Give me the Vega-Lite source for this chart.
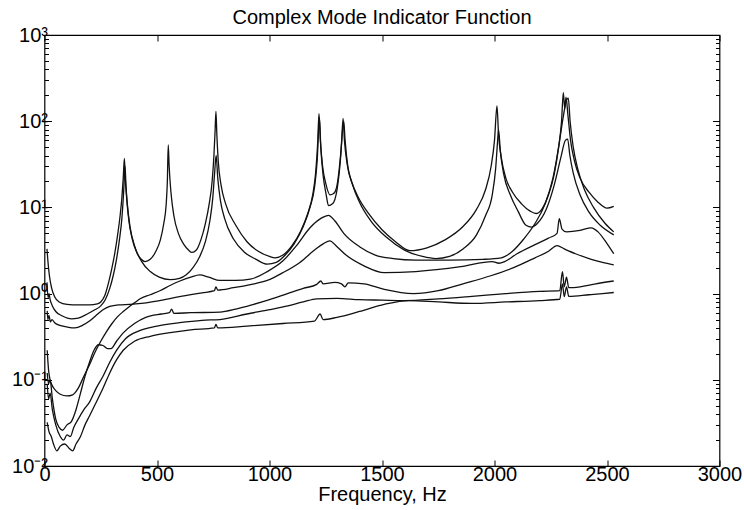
{
"$schema": "https://vega.github.io/schema/vega-lite/v6.json",
"width": 675, "height": 431,
"autosize": {"type": "none"},
"padding": {"left": 44.5, "top": 35, "right": 24.5, "bottom": 44},
"background": "white",
"config": {"view": {"stroke": "black", "strokeWidth": 1.2}, "axis": {"domain": false, "grid": false, "labelFont": "Liberation Sans", "titleFont": "Liberation Sans", "labelColor": "black", "titleColor": "black", "tickColor": "black", "labelFontSize": 20, "titleFontSize": 20, "titleFontWeight": "normal", "labelFlush": false, "labelOverlap": false}},
"title": {"text": "Complex Mode Indicator Function", "fontSize": 20, "fontWeight": "normal", "font": "Liberation Sans", "offset": -3, "anchor": "middle", "color": "black"},
"data": {"values": [
{"c":"A","f":11,"v":3.3},{"c":"A","f":15,"v":2.4},{"c":"A","f":22,"v":1.6},{"c":"A","f":32,"v":1.15},{"c":"A","f":45,"v":0.92},{"c":"A","f":65,"v":0.8},{"c":"A","f":100,"v":0.75},{"c":"A","f":150,"v":0.74},{"c":"A","f":200,"v":0.74},{"c":"A","f":235,"v":0.76},{"c":"A","f":250,"v":0.8},{"c":"A","f":268,"v":0.95},{"c":"A","f":285,"v":1.35},{"c":"A","f":300,"v":2.0},{"c":"A","f":313,"v":3.0},{"c":"A","f":325,"v":4.8},{"c":"A","f":336,"v":8},{"c":"A","f":344,"v":13},{"c":"A","f":350,"v":22},{"c":"A","f":355,"v":37},{"c":"A","f":359,"v":22},{"c":"A","f":365,"v":13},{"c":"A","f":375,"v":7},{"c":"A","f":390,"v":4.3},{"c":"A","f":410,"v":3.0},{"c":"A","f":430,"v":2.5},{"c":"A","f":447,"v":2.35},{"c":"A","f":470,"v":2.5},{"c":"A","f":495,"v":3.1},{"c":"A","f":515,"v":4.2},{"c":"A","f":530,"v":6.5},{"c":"A","f":541,"v":11},{"c":"A","f":546,"v":20},{"c":"A","f":550,"v":53},{"c":"A","f":554,"v":30},{"c":"A","f":562,"v":15},{"c":"A","f":575,"v":8},{"c":"A","f":595,"v":5},{"c":"A","f":620,"v":3.7},{"c":"A","f":640,"v":3.2},{"c":"A","f":655,"v":3.0},{"c":"A","f":675,"v":3.2},{"c":"A","f":695,"v":4.2},{"c":"A","f":715,"v":6.5},{"c":"A","f":732,"v":11},{"c":"A","f":745,"v":20},{"c":"A","f":753,"v":40},{"c":"A","f":758,"v":75},{"c":"A","f":762,"v":130},{"c":"A","f":766,"v":70},{"c":"A","f":772,"v":35},{"c":"A","f":785,"v":18},{"c":"A","f":805,"v":11},{"c":"A","f":850,"v":6.2},{"c":"A","f":900,"v":4.0},{"c":"A","f":950,"v":3.1},{"c":"A","f":1000,"v":2.7},{"c":"A","f":1025,"v":2.6},{"c":"A","f":1060,"v":2.8},{"c":"A","f":1100,"v":3.6},{"c":"A","f":1140,"v":5.4},{"c":"A","f":1170,"v":8.5},{"c":"A","f":1192,"v":14},{"c":"A","f":1205,"v":25},{"c":"A","f":1214,"v":55},{"c":"A","f":1220,"v":122},{"c":"A","f":1226,"v":60},{"c":"A","f":1236,"v":30},{"c":"A","f":1250,"v":19},{"c":"A","f":1269,"v":14},{"c":"A","f":1285,"v":14.5},{"c":"A","f":1298,"v":17},{"c":"A","f":1310,"v":28},{"c":"A","f":1320,"v":55},{"c":"A","f":1327,"v":108},{"c":"A","f":1333,"v":60},{"c":"A","f":1345,"v":32},{"c":"A","f":1365,"v":20},{"c":"A","f":1395,"v":13},{"c":"A","f":1440,"v":8.5},{"c":"A","f":1500,"v":5.5},{"c":"A","f":1560,"v":4.0},{"c":"A","f":1624,"v":3.15},{"c":"A","f":1700,"v":3.4},{"c":"A","f":1780,"v":4.2},{"c":"A","f":1860,"v":6},{"c":"A","f":1920,"v":9.5},{"c":"A","f":1960,"v":16},{"c":"A","f":1985,"v":30},{"c":"A","f":2000,"v":60},{"c":"A","f":2011,"v":150},{"c":"A","f":2018,"v":70},{"c":"A","f":2030,"v":38},{"c":"A","f":2050,"v":22},{"c":"A","f":2080,"v":15},{"c":"A","f":2120,"v":11},{"c":"A","f":2160,"v":9},{"c":"A","f":2185,"v":8.5},{"c":"A","f":2210,"v":9.5},{"c":"A","f":2240,"v":14},{"c":"A","f":2265,"v":24},{"c":"A","f":2285,"v":50},{"c":"A","f":2298,"v":100},{"c":"A","f":2306,"v":215},{"c":"A","f":2312,"v":140},{"c":"A","f":2318,"v":190},{"c":"A","f":2326,"v":120},{"c":"A","f":2338,"v":60},{"c":"A","f":2355,"v":35},{"c":"A","f":2380,"v":22},{"c":"A","f":2420,"v":15},{"c":"A","f":2460,"v":11.5},{"c":"A","f":2500,"v":9.8},{"c":"A","f":2530,"v":10.3},
{"c":"B","f":11,"v":1.35},{"c":"B","f":16,"v":0.9},{"c":"B","f":20,"v":1.0},{"c":"B","f":25,"v":0.85},{"c":"B","f":35,"v":0.72},{"c":"B","f":50,"v":0.62},{"c":"B","f":80,"v":0.55},{"c":"B","f":120,"v":0.51},{"c":"B","f":150,"v":0.52},{"c":"B","f":190,"v":0.58},{"c":"B","f":220,"v":0.64},{"c":"B","f":250,"v":0.72},{"c":"B","f":270,"v":0.85},{"c":"B","f":290,"v":1.15},{"c":"B","f":305,"v":1.6},{"c":"B","f":320,"v":2.5},{"c":"B","f":333,"v":4.2},{"c":"B","f":344,"v":7.5},{"c":"B","f":351,"v":14},{"c":"B","f":355,"v":22},{"c":"B","f":358,"v":30},{"c":"B","f":362,"v":18},{"c":"B","f":368,"v":11},{"c":"B","f":380,"v":6},{"c":"B","f":400,"v":3.6},{"c":"B","f":430,"v":2.4},{"c":"B","f":470,"v":1.8},{"c":"B","f":510,"v":1.55},{"c":"B","f":558,"v":1.45},{"c":"B","f":600,"v":1.5},{"c":"B","f":630,"v":1.65},{"c":"B","f":660,"v":2.0},{"c":"B","f":690,"v":2.7},{"c":"B","f":715,"v":4},{"c":"B","f":735,"v":7},{"c":"B","f":748,"v":13},{"c":"B","f":756,"v":25},{"c":"B","f":763,"v":40},{"c":"B","f":770,"v":22},{"c":"B","f":782,"v":12},{"c":"B","f":800,"v":7.5},{"c":"B","f":840,"v":4.3},{"c":"B","f":890,"v":3.0},{"c":"B","f":940,"v":2.5},{"c":"B","f":990,"v":2.2},{"c":"B","f":1030,"v":2.3},{"c":"B","f":1070,"v":2.8},{"c":"B","f":1110,"v":3.8},{"c":"B","f":1150,"v":6},{"c":"B","f":1180,"v":10},{"c":"B","f":1200,"v":17},{"c":"B","f":1212,"v":35},{"c":"B","f":1222,"v":110},{"c":"B","f":1228,"v":50},{"c":"B","f":1238,"v":24},{"c":"B","f":1252,"v":14},{"c":"B","f":1262,"v":10.5},{"c":"B","f":1280,"v":11},{"c":"B","f":1300,"v":16},{"c":"B","f":1315,"v":35},{"c":"B","f":1325,"v":80},{"c":"B","f":1330,"v":100},{"c":"B","f":1336,"v":60},{"c":"B","f":1348,"v":30},{"c":"B","f":1370,"v":18},{"c":"B","f":1400,"v":11.5},{"c":"B","f":1450,"v":7},{"c":"B","f":1520,"v":4.5},{"c":"B","f":1600,"v":3.2},{"c":"B","f":1680,"v":2.7},{"c":"B","f":1740,"v":2.55},{"c":"B","f":1800,"v":2.7},{"c":"B","f":1860,"v":3.3},{"c":"B","f":1920,"v":4.8},{"c":"B","f":1960,"v":8},{"c":"B","f":1990,"v":14},{"c":"B","f":2005,"v":28},{"c":"B","f":2013,"v":55},{"c":"B","f":2018,"v":80},{"c":"B","f":2026,"v":45},{"c":"B","f":2040,"v":25},{"c":"B","f":2070,"v":14},{"c":"B","f":2105,"v":9},{"c":"B","f":2140,"v":6.2},{"c":"B","f":2165,"v":5.9},{"c":"B","f":2190,"v":6.5},{"c":"B","f":2230,"v":9.5},{"c":"B","f":2265,"v":18},{"c":"B","f":2295,"v":38},{"c":"B","f":2315,"v":60},{"c":"B","f":2325,"v":62},{"c":"B","f":2335,"v":40},{"c":"B","f":2350,"v":25},{"c":"B","f":2380,"v":14},{"c":"B","f":2420,"v":8.8},{"c":"B","f":2470,"v":6.2},{"c":"B","f":2530,"v":4.8},
{"c":"C3","f":12,"v":0.22},{"c":"C3","f":18,"v":0.13},{"c":"C3","f":25,"v":0.1},{"c":"C3","f":35,"v":0.085},{"c":"C3","f":50,"v":0.075},{"c":"C3","f":70,"v":0.068},{"c":"C3","f":100,"v":0.065},{"c":"C3","f":125,"v":0.067},{"c":"C3","f":150,"v":0.08},{"c":"C3","f":175,"v":0.11},{"c":"C3","f":200,"v":0.15},{"c":"C3","f":225,"v":0.21},{"c":"C3","f":250,"v":0.28},{"c":"C3","f":275,"v":0.36},{"c":"C3","f":300,"v":0.45},{"c":"C3","f":325,"v":0.54},{"c":"C3","f":350,"v":0.62},{"c":"C3","f":375,"v":0.7},{"c":"C3","f":400,"v":0.78},{"c":"C3","f":425,"v":0.87},{"c":"C3","f":470,"v":0.97},{"c":"C3","f":513,"v":1.08},{"c":"C3","f":560,"v":1.25},{"c":"C3","f":602,"v":1.4},{"c":"C3","f":650,"v":1.55},{"c":"C3","f":690,"v":1.65},{"c":"C3","f":730,"v":1.55},{"c":"C3","f":780,"v":1.42},{"c":"C3","f":850,"v":1.42},{"c":"C3","f":915,"v":1.47},{"c":"C3","f":990,"v":1.8},{"c":"C3","f":1060,"v":2.4},{"c":"C3","f":1120,"v":3.6},{"c":"C3","f":1180,"v":5.8},{"c":"C3","f":1230,"v":7.5},{"c":"C3","f":1262,"v":8.1},{"c":"C3","f":1290,"v":7},{"c":"C3","f":1330,"v":5},{"c":"C3","f":1400,"v":3.5},{"c":"C3","f":1470,"v":2.8},{"c":"C3","f":1550,"v":2.55},{"c":"C3","f":1650,"v":2.45},{"c":"C3","f":1800,"v":2.45},{"c":"C3","f":1950,"v":2.5},{"c":"C3","f":2030,"v":2.6},{"c":"C3","f":2080,"v":3.1},{"c":"C3","f":2130,"v":4.3},{"c":"C3","f":2180,"v":6.5},{"c":"C3","f":2225,"v":11},{"c":"C3","f":2260,"v":22},{"c":"C3","f":2285,"v":50},{"c":"C3","f":2305,"v":110},{"c":"C3","f":2320,"v":175},{"c":"C3","f":2328,"v":185},{"c":"C3","f":2336,"v":100},{"c":"C3","f":2350,"v":50},{"c":"C3","f":2370,"v":28},{"c":"C3","f":2400,"v":16},{"c":"C3","f":2440,"v":10},{"c":"C3","f":2490,"v":6.6},{"c":"C3","f":2530,"v":5.2},
{"c":"C4","f":12,"v":0.63},{"c":"C4","f":15,"v":0.5},{"c":"C4","f":20,"v":0.56},{"c":"C4","f":26,"v":0.47},{"c":"C4","f":33,"v":0.5},{"c":"C4","f":45,"v":0.46},{"c":"C4","f":65,"v":0.43},{"c":"C4","f":100,"v":0.41},{"c":"C4","f":135,"v":0.4},{"c":"C4","f":170,"v":0.43},{"c":"C4","f":200,"v":0.48},{"c":"C4","f":230,"v":0.56},{"c":"C4","f":260,"v":0.65},{"c":"C4","f":290,"v":0.71},{"c":"C4","f":330,"v":0.74},{"c":"C4","f":380,"v":0.75},{"c":"C4","f":430,"v":0.77},{"c":"C4","f":500,"v":0.82},{"c":"C4","f":600,"v":0.92},{"c":"C4","f":700,"v":1.02},{"c":"C4","f":755,"v":1.08},{"c":"C4","f":762,"v":1.2},{"c":"C4","f":770,"v":1.1},{"c":"C4","f":840,"v":1.17},{"c":"C4","f":920,"v":1.28},{"c":"C4","f":990,"v":1.42},{"c":"C4","f":1060,"v":1.75},{"c":"C4","f":1135,"v":2.3},{"c":"C4","f":1200,"v":3.2},{"c":"C4","f":1240,"v":3.8},{"c":"C4","f":1268,"v":4.1},{"c":"C4","f":1300,"v":3.5},{"c":"C4","f":1340,"v":2.8},{"c":"C4","f":1420,"v":2.1},{"c":"C4","f":1510,"v":1.75},{"c":"C4","f":1650,"v":1.8},{"c":"C4","f":1850,"v":2.05},{"c":"C4","f":1990,"v":2.35},{"c":"C4","f":2020,"v":2.25},{"c":"C4","f":2045,"v":2.35},{"c":"C4","f":2100,"v":2.9},{"c":"C4","f":2180,"v":3.7},{"c":"C4","f":2240,"v":4.4},{"c":"C4","f":2278,"v":5},{"c":"C4","f":2288,"v":7.4},{"c":"C4","f":2300,"v":5.6},{"c":"C4","f":2320,"v":5.2},{"c":"C4","f":2380,"v":5.4},{"c":"C4","f":2430,"v":5.8},{"c":"C4","f":2460,"v":5.2},{"c":"C4","f":2500,"v":3.8},{"c":"C4","f":2530,"v":2.9},
{"c":"C5","f":12,"v":0.12},{"c":"C5","f":18,"v":0.09},{"c":"C5","f":25,"v":0.1},{"c":"C5","f":35,"v":0.06},{"c":"C5","f":50,"v":0.035},{"c":"C5","f":65,"v":0.028},{"c":"C5","f":80,"v":0.026},{"c":"C5","f":100,"v":0.03},{"c":"C5","f":120,"v":0.033},{"c":"C5","f":140,"v":0.045},{"c":"C5","f":160,"v":0.07},{"c":"C5","f":180,"v":0.11},{"c":"C5","f":200,"v":0.16},{"c":"C5","f":220,"v":0.22},{"c":"C5","f":240,"v":0.255},{"c":"C5","f":260,"v":0.25},{"c":"C5","f":280,"v":0.23},{"c":"C5","f":295,"v":0.23},{"c":"C5","f":320,"v":0.28},{"c":"C5","f":350,"v":0.35},{"c":"C5","f":400,"v":0.45},{"c":"C5","f":450,"v":0.53},{"c":"C5","f":520,"v":0.58},{"c":"C5","f":555,"v":0.6},{"c":"C5","f":565,"v":0.66},{"c":"C5","f":575,"v":0.59},{"c":"C5","f":650,"v":0.6},{"c":"C5","f":780,"v":0.61},{"c":"C5","f":850,"v":0.66},{"c":"C5","f":930,"v":0.75},{"c":"C5","f":1000,"v":0.85},{"c":"C5","f":1080,"v":1.0},{"c":"C5","f":1150,"v":1.15},{"c":"C5","f":1210,"v":1.28},{"c":"C5","f":1228,"v":1.4},{"c":"C5","f":1238,"v":1.3},{"c":"C5","f":1290,"v":1.35},{"c":"C5","f":1320,"v":1.3},{"c":"C5","f":1335,"v":1.2},{"c":"C5","f":1350,"v":1.33},{"c":"C5","f":1420,"v":1.3},{"c":"C5","f":1510,"v":1.12},{"c":"C5","f":1640,"v":1.0},{"c":"C5","f":1750,"v":1.08},{"c":"C5","f":1860,"v":1.3},{"c":"C5","f":1980,"v":1.6},{"c":"C5","f":2085,"v":2.0},{"c":"C5","f":2180,"v":2.6},{"c":"C5","f":2240,"v":3.1},{"c":"C5","f":2278,"v":3.6},{"c":"C5","f":2310,"v":3.3},{"c":"C5","f":2360,"v":2.9},{"c":"C5","f":2430,"v":2.5},{"c":"C5","f":2480,"v":2.3},{"c":"C5","f":2530,"v":2.15},
{"c":"C6","f":12,"v":0.09},{"c":"C6","f":18,"v":0.06},{"c":"C6","f":25,"v":0.07},{"c":"C6","f":35,"v":0.045},{"c":"C6","f":50,"v":0.03},{"c":"C6","f":70,"v":0.022},{"c":"C6","f":85,"v":0.02},{"c":"C6","f":100,"v":0.023},{"c":"C6","f":115,"v":0.022},{"c":"C6","f":130,"v":0.028},{"c":"C6","f":150,"v":0.035},{"c":"C6","f":175,"v":0.045},{"c":"C6","f":200,"v":0.055},{"c":"C6","f":230,"v":0.08},{"c":"C6","f":260,"v":0.11},{"c":"C6","f":290,"v":0.16},{"c":"C6","f":320,"v":0.22},{"c":"C6","f":360,"v":0.3},{"c":"C6","f":420,"v":0.37},{"c":"C6","f":500,"v":0.42},{"c":"C6","f":600,"v":0.46},{"c":"C6","f":700,"v":0.49},{"c":"C6","f":780,"v":0.5},{"c":"C6","f":900,"v":0.58},{"c":"C6","f":1000,"v":0.65},{"c":"C6","f":1060,"v":0.7},{"c":"C6","f":1150,"v":0.8},{"c":"C6","f":1210,"v":0.87},{"c":"C6","f":1300,"v":0.88},{"c":"C6","f":1400,"v":0.85},{"c":"C6","f":1500,"v":0.84},{"c":"C6","f":1600,"v":0.83},{"c":"C6","f":1750,"v":0.87},{"c":"C6","f":1900,"v":0.93},{"c":"C6","f":2050,"v":1.0},{"c":"C6","f":2200,"v":1.06},{"c":"C6","f":2290,"v":1.08},{"c":"C6","f":2302,"v":1.8},{"c":"C6","f":2310,"v":1.2},{"c":"C6","f":2320,"v":1.55},{"c":"C6","f":2330,"v":1.17},{"c":"C6","f":2380,"v":1.2},{"c":"C6","f":2450,"v":1.3},{"c":"C6","f":2530,"v":1.4},
{"c":"C7","f":12,"v":0.032},{"c":"C7","f":20,"v":0.025},{"c":"C7","f":30,"v":0.022},{"c":"C7","f":40,"v":0.018},{"c":"C7","f":55,"v":0.015},{"c":"C7","f":70,"v":0.017},{"c":"C7","f":90,"v":0.018},{"c":"C7","f":110,"v":0.016},{"c":"C7","f":125,"v":0.015},{"c":"C7","f":140,"v":0.018},{"c":"C7","f":160,"v":0.022},{"c":"C7","f":180,"v":0.03},{"c":"C7","f":200,"v":0.038},{"c":"C7","f":230,"v":0.055},{"c":"C7","f":260,"v":0.08},{"c":"C7","f":290,"v":0.12},{"c":"C7","f":320,"v":0.17},{"c":"C7","f":350,"v":0.22},{"c":"C7","f":400,"v":0.28},{"c":"C7","f":470,"v":0.32},{"c":"C7","f":550,"v":0.35},{"c":"C7","f":650,"v":0.38},{"c":"C7","f":755,"v":0.4},{"c":"C7","f":762,"v":0.44},{"c":"C7","f":770,"v":0.4},{"c":"C7","f":900,"v":0.42},{"c":"C7","f":1060,"v":0.45},{"c":"C7","f":1200,"v":0.48},{"c":"C7","f":1225,"v":0.58},{"c":"C7","f":1238,"v":0.5},{"c":"C7","f":1300,"v":0.53},{"c":"C7","f":1400,"v":0.62},{"c":"C7","f":1510,"v":0.75},{"c":"C7","f":1620,"v":0.83},{"c":"C7","f":1750,"v":0.8},{"c":"C7","f":1900,"v":0.77},{"c":"C7","f":2050,"v":0.8},{"c":"C7","f":2200,"v":0.83},{"c":"C7","f":2290,"v":0.86},{"c":"C7","f":2302,"v":1.3},{"c":"C7","f":2310,"v":0.92},{"c":"C7","f":2320,"v":1.2},{"c":"C7","f":2330,"v":0.93},{"c":"C7","f":2420,"v":0.97},{"c":"C7","f":2480,"v":1.0},{"c":"C7","f":2530,"v":1.03}
]},
"layer": [
{"mark": {"type": "line", "color": "#111111", "strokeWidth": 1.3, "interpolate": "monotone"},
 "encoding": {
  "x": {"field": "f", "type": "quantitative", "scale": {"domain": [0, 3000], "nice": false, "zero": false},
        "axis": {"orient": "bottom", "values": [0, 500, 1000, 1500, 2000, 2500, 3000], "format": "d", "title": "Frequency, Hz", "tickSize": -6, "labelPadding": 4, "titlePadding": 0}},
  "y": {"field": "v", "type": "quantitative", "scale": {"type": "log", "domain": [0.01, 1000], "nice": false},
        "axis": {"orient": "left", "title": null, "labelPadding": 4,
                 "values": [0.01,0.02,0.03,0.04,0.05,0.06,0.07,0.08,0.09,0.1,0.2,0.3,0.4,0.5,0.6,0.7,0.8,0.9,1,2,3,4,5,6,7,8,9,10,20,30,40,50,60,70,80,90,100,200,300,400,500,600,700,800,900,1000],
                 "tickSize": {"condition": {"test": "indexof([0.01,0.1,1,10,100,1000], datum.value) >= 0", "value": -7}, "value": -4},
                 "labelExpr": "datum.value == 1000 ? '10³' : datum.value == 100 ? '10²' : datum.value == 10 ? '10¹' : datum.value == 1 ? '10⁰' : datum.value == 0.1 ? '10⁻¹' : datum.value == 0.01 ? '10⁻²' : ''"}},
  "detail": {"field": "c"}}},
{"mark": {"type": "line", "opacity": 0},
 "encoding": {
  "x": {"field": "f", "type": "quantitative", "axis": {"orient": "top", "values": [0, 500, 1000, 1500, 2000, 2500, 3000], "labels": false, "title": null, "tickSize": -6}},
  "y": {"field": "v", "type": "quantitative", "scale": {"type": "log"},
        "axis": {"orient": "right", "labels": false, "title": null,
                 "values": [0.01,0.02,0.03,0.04,0.05,0.06,0.07,0.08,0.09,0.1,0.2,0.3,0.4,0.5,0.6,0.7,0.8,0.9,1,2,3,4,5,6,7,8,9,10,20,30,40,50,60,70,80,90,100,200,300,400,500,600,700,800,900,1000],
                 "tickSize": {"condition": {"test": "indexof([0.01,0.1,1,10,100,1000], datum.value) >= 0", "value": -7}, "value": -4}}},
  "detail": {"field": "c"}}}
],
"resolve": {"axis": {"x": "independent", "y": "independent"}}
}
